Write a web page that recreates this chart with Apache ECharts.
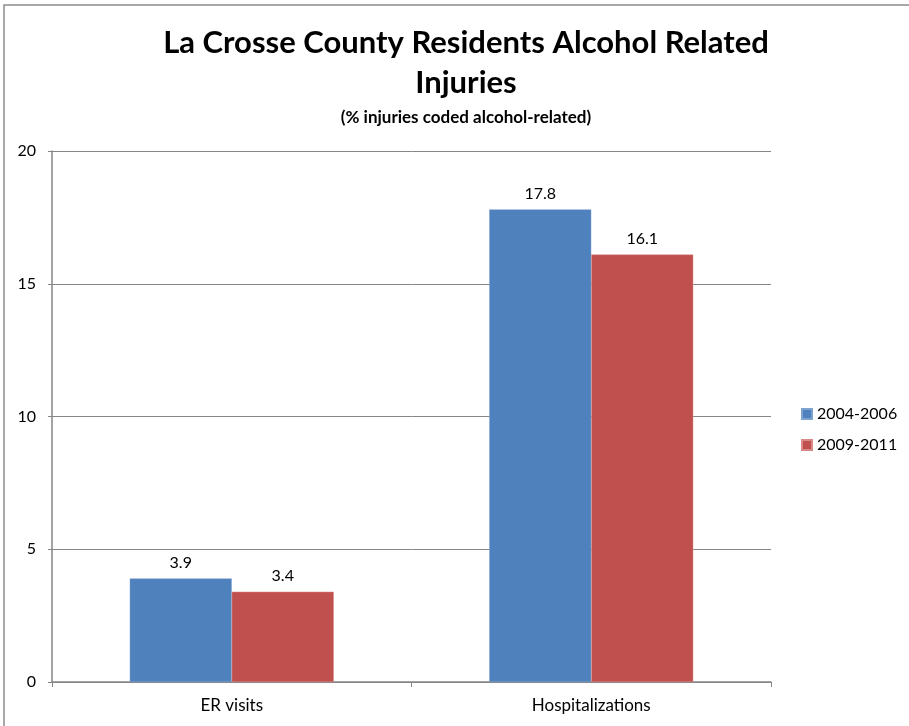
<!DOCTYPE html>
<html>
<head>
<meta charset="utf-8">
<script src="https://cdn.jsdelivr.net/npm/echarts@6/dist/echarts.min.js"></script>
<style>
html,body{margin:0;padding:0;background:#fff;}
#chart{width:909px;height:726px;}
</style>
</head>
<body>
<div id="chart"></div>
<script>
const categories = ['ER visits', 'Hospitalizations'];
const series2004 = [3.9, 17.8];
const series2009 = [3.4, 16.1];
const seriesNames = ['2004-2006', '2009-2011'];
const yTicks = [0, 5, 10, 15, 20];

const FONT = 'Lato, "Open Sans", sans-serif';
const chart = echarts.init(document.getElementById('chart'));
chart.setOption({
  backgroundColor: '#fff',
  animation: false,
  textStyle: { fontFamily: FONT },
  graphic: [{
    type: 'rect', shape: { x: 4, y: 5, width: 920, height: 740 },
    style: { fill: 'none', stroke: '#8c8c8c', lineWidth: 1.5 }, z: -1
  }],
  title: [{
    text: 'La Crosse County Residents Alcohol Related\nInjuries',
    left: 461, top: 18, textAlign: 'center',
    textStyle: { fontFamily: FONT, fontSize: 31, fontWeight: 'bold', color: '#000', lineHeight: 40 }
  }, {
    text: '(% injuries coded alcohol-related)',
    left: 461, top: 104, textAlign: 'center',
    textStyle: { fontFamily: FONT, fontSize: 17, fontWeight: 'bold', color: '#000' }
  }],
  legend: {
    orient: 'vertical', left: 796, top: 401,
    itemWidth: 10, itemHeight: 10, itemGap: 15,
    icon: 'rect',
    textStyle: { fontFamily: FONT, fontSize: 16, color: '#000', padding: [0, 0, 0, 0] },
    data: seriesNames
  },
  grid: { left: 52, right: 138, top: 151, bottom: 44, containLabel: false },
  xAxis: {
    type: 'category', data: categories,
    axisLine: { lineStyle: { color: '#868686', width: 1.5 } },
    axisTick: { show: true, length: 5, lineStyle: { color: '#868686' } },
    axisLabel: { color: '#000', fontSize: 17, fontFamily: FONT, margin: 15 }
  },
  yAxis: {
    type: 'value', min: 0, max: 20, interval: 5,
    axisLine: { show: true, lineStyle: { color: '#868686', width: 1.5 } },
    axisTick: { show: true, length: 4, inside: false, lineStyle: { color: '#868686' } },
    axisLabel: { color: '#000', fontSize: 16, fontFamily: FONT, margin: 16,
      formatter: v => yTicks.includes(v) ? String(v) : '' },
    splitLine: { lineStyle: { color: '#868686', width: 1 } }
  },
  series: [{
    name: seriesNames[0], type: 'bar', data: series2004,
    barWidth: 102, barGap: '0%',
    itemStyle: { color: '#4F81BD', borderColor: '#7fa3d0', borderWidth: 0.5 },
    label: { show: true, position: 'top', distance: 8, color: '#000', fontSize: 16, fontFamily: FONT }
  }, {
    name: seriesNames[1], type: 'bar', data: series2009,
    barWidth: 102, barGap: '0%',
    itemStyle: { color: '#C0504D', borderColor: '#d98a88', borderWidth: 0.5 },
    label: { show: true, position: 'top', distance: 8, color: '#000', fontSize: 16, fontFamily: FONT }
  }]
});
</script>
</body>
</html>
